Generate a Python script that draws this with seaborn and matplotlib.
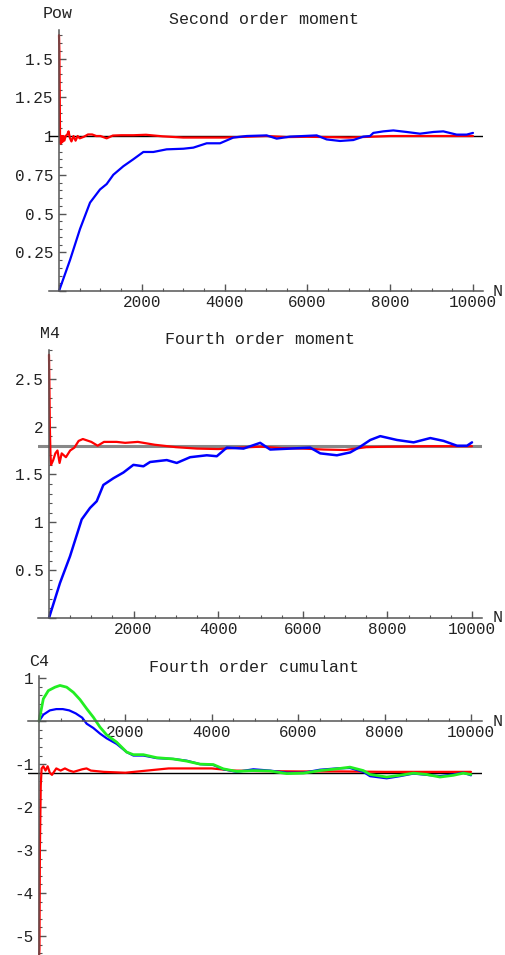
import numpy as np
import pandas as pd
import seaborn as sns
import matplotlib.pyplot as plt
from matplotlib.ticker import MultipleLocator, FuncFormatter

# ---- panel 1: second order moment ----
pow_red_n = [0, 8, 16, 24, 40, 60, 80, 100, 130, 160, 200, 230, 260, 300, 350, 400, 450, 500, 550,
             600, 700, 800, 900, 1000, 1150, 1300, 1500, 1800, 2100, 2500, 3000, 3500, 4000, 4500,
             5000, 5500, 6000, 6500, 7000, 7500, 8000, 9000, 10000]
pow_red = [1.65, 1.55, 1.3, 1.01, 0.95, 1.0, 0.96, 1.0, 0.97, 1.0, 1.01, 1.03, 0.99, 0.965, 1.0, 0.97,
           1.0, 0.985, 0.99, 0.995, 1.01, 1.01, 1.0, 1.0, 0.985, 1.003, 1.005, 1.005, 1.008, 0.998,
           0.99, 0.99, 0.99, 0.995, 1.0, 0.993, 0.995, 0.993, 0.99, 0.995, 1.0, 1.0, 1.0]
pow_blue_n = [0, 266, 507, 749, 990, 1151, 1312, 1554, 1795, 2037, 2279, 2600, 3003, 3245, 3567, 3889,
              4211, 4533, 5016, 5258, 5580, 6224, 6465, 6787, 7109, 7351, 7512, 7593, 7834, 8076,
              8398, 8720, 9042, 9283, 9605, 9847, 10000]
pow_blue = [0.0, 0.2, 0.4, 0.57, 0.655, 0.69, 0.75, 0.805, 0.85, 0.897, 0.897, 0.914, 0.918, 0.925,
            0.953, 0.953, 0.99, 1.0, 1.004, 0.983, 0.996, 1.004, 0.978, 0.968, 0.974, 0.996, 1.0,
            1.02, 1.03, 1.036, 1.026, 1.015, 1.026, 1.03, 1.009, 1.009, 1.02]
pow_ref = 1.0

# ---- panel 2: fourth order moment ----
m4_red_n = [0, 10, 20, 35, 50, 100, 150, 200, 250, 300, 400, 500, 600, 700, 800, 1000, 1150, 1300,
            1600, 1800, 2100, 2500, 3000, 3500, 4000, 4500, 5000, 5500, 6000, 6500, 7000, 7500,
            8000, 9000, 10000]
m4_red = [2.75, 2.4, 2.0, 1.7, 1.6, 1.65, 1.72, 1.75, 1.62, 1.72, 1.68, 1.75, 1.78, 1.85, 1.87, 1.84,
          1.8, 1.84, 1.84, 1.83, 1.84, 1.81, 1.785, 1.77, 1.765, 1.78, 1.79, 1.775, 1.77, 1.76,
          1.755, 1.785, 1.79, 1.795, 1.795]
m4_blue_n = [0, 260, 497, 773, 970, 1128, 1285, 1522, 1759, 1995, 2232, 2390, 2784, 3020, 3336, 3730,
             3967, 4203, 4598, 4992, 5229, 5702, 6175, 6412, 6806, 7121, 7358, 7595, 7831, 8225,
             8620, 9014, 9330, 9645, 9882, 10000]
m4_blue = [0.0, 0.366, 0.645, 1.03, 1.15, 1.22, 1.39, 1.46, 1.52, 1.6, 1.585, 1.63, 1.65, 1.62, 1.68,
           1.7, 1.69, 1.78, 1.77, 1.83, 1.76, 1.77, 1.78, 1.72, 1.7, 1.73, 1.79, 1.86, 1.9, 1.86,
           1.835, 1.88, 1.85, 1.8, 1.8, 1.835]
m4_ref = 1.8

# ---- panel 3: fourth order cumulant ----
c4_red_n = [0, 10, 20, 40, 60, 100, 150, 200, 250, 300, 400, 500, 600, 700, 800, 1000, 1100, 1200,
            1500, 2000, 2500, 3000, 3500, 4000, 4500, 5000, 6000, 7000, 8000, 9000, 10000]
c4_red = [-5.5, -5.3, -3.0, -1.5, -1.1, -1.05, -1.15, -1.05, -1.2, -1.25, -1.1, -1.15, -1.1, -1.15,
          -1.18, -1.12, -1.1, -1.15, -1.18, -1.2, -1.15, -1.1, -1.1, -1.1, -1.15, -1.16, -1.17,
          -1.17, -1.18, -1.18, -1.18]
c4_green_n = [0, 100, 216, 370, 486, 640, 795, 950, 1103, 1258, 1412, 1566, 1798, 2029, 2184, 2415,
              2724, 3110, 3418, 3727, 4035, 4267, 4576, 4961, 5347, 5733, 6119, 6505, 6890, 7199,
              7508, 7662, 8048, 8356, 8665, 8974, 9282, 9591, 9823, 10000]
c4_green = [0.0, 0.52, 0.71, 0.79, 0.83, 0.79, 0.67, 0.5, 0.29, 0.09, -0.14, -0.32, -0.49, -0.72,
            -0.78, -0.78, -0.85, -0.88, -0.93, -1.0, -1.01, -1.11, -1.17, -1.15, -1.16, -1.22,
            -1.21, -1.15, -1.11, -1.07, -1.15, -1.24, -1.3, -1.26, -1.21, -1.24, -1.3, -1.26,
            -1.21, -1.24]
c4_blue_n = [0, 100, 250, 400, 550, 700, 850, 1000, 1103, 1258, 1412, 1566, 1798, 2029, 2184, 2415,
             2724, 3110, 3418, 3727, 4035, 4267, 4576, 4961, 5347, 5733, 6119, 6505, 6890, 7199,
             7508, 7662, 8048, 8356, 8665, 8974, 9282, 9591, 9823, 10000]
c4_blue = [0.0, 0.15, 0.25, 0.28, 0.28, 0.25, 0.18, 0.08, -0.06, -0.16, -0.29, -0.4, -0.53, -0.72,
           -0.8, -0.8, -0.86, -0.88, -0.92, -1.0, -1.02, -1.12, -1.18, -1.12, -1.15, -1.2, -1.2,
           -1.13, -1.1, -1.09, -1.18, -1.28, -1.33, -1.28, -1.22, -1.25, -1.28, -1.24, -1.2, -1.26]
c4_ref = -1.2

sns.set_style("white")
plt.rcParams['font.family'] = ['Liberation Mono', 'DejaVu Sans Mono']
plt.rcParams['axes.unicode_minus'] = False

W, H = 505, 955
fig = plt.figure(figsize=(W / 100, H / 100), dpi=100)


def fmt(v, pos):
    if abs(v) < 1e-9:
        return ""
    return "%g" % round(v, 4)


def setup(ax, xlim, ylim, ymajor, yminor):
    ax.set_xlim(*xlim)
    ax.set_ylim(*ylim)
    for s in ["top", "right"]:
        ax.spines[s].set_visible(False)
    ax.spines["left"].set_position(("data", 0))
    ax.spines["bottom"].set_position(("data", 0))
    for s in ["left", "bottom"]:
        ax.spines[s].set_color("#555555")
        ax.spines[s].set_linewidth(1.1)
    ax.xaxis.set_major_locator(MultipleLocator(2000))
    ax.xaxis.set_minor_locator(MultipleLocator(500))
    ax.yaxis.set_major_locator(MultipleLocator(ymajor))
    ax.yaxis.set_minor_locator(MultipleLocator(yminor))
    ax.xaxis.set_major_formatter(FuncFormatter(fmt))
    ax.yaxis.set_major_formatter(FuncFormatter(fmt))
    ax.tick_params(which="both", direction="in", colors="#555555", labelcolor="#222222",
                   labelsize=11.5, left=True, bottom=True)
    ax.tick_params(which="major", length=5, width=1)
    ax.tick_params(which="minor", length=2.5, width=0.8)
    ax.tick_params(axis="y", pad=4)
    ax.tick_params(axis="x", pad=3)
    ax.set_xlabel("")
    ax.set_ylabel("")
    ax.patch.set_alpha(0)


def px(x, y):
    return x / W, 1 - y / H


def draw(ax, n, v, color, lw):
    sns.lineplot(x=n, y=v, ax=ax, color=color, lw=lw, sort=False, estimator=None)


# panel 1
ax1 = fig.add_axes([49 / W, 1 - 291 / H, 434 / W, 261 / H])
ax1.axhline(pow_ref, color="black", lw=1)
draw(ax1, pow_red_n, pow_red, "#ff0000", 1.6)
draw(ax1, pow_blue_n, pow_blue, "#0000ff", 1.6)
setup(ax1, (-242, 10242), (0, 1.684), 0.25, 0.05)

# panel 2
ax2 = fig.add_axes([38 / W, 1 - 618 / H, 444 / W, 268 / H])
ax2.axhline(m4_ref, color="#888888", lw=2.2)
draw(ax2, m4_red_n, m4_red, "#ff0000", 1.6)
draw(ax2, m4_blue_n, m4_blue, "#0000ff", 1.8)
setup(ax2, (-260, 10236), (0, 2.8), 0.5, 0.1)

# panel 3
ax3 = fig.add_axes([28 / W, 0, 454 / W, 279 / H])
ax3.axhline(c4_ref, color="black", lw=1)
draw(ax3, c4_red_n, c4_red, "#ff0000", 1.6)
draw(ax3, c4_blue_n, c4_blue, "#0000ff", 1.6)
draw(ax3, c4_green_n, c4_green, "#22ee22", 2.0)
setup(ax3, (-255, 10255), (-5.44, 1.05), 1, 0.2)

# titles and axis labels (Mathematica style)
txt = dict(ha="center", va="center", fontsize=12, color="#222222")
fig.text(*px(264, 19), "Second order moment", **txt)
fig.text(*px(260, 340), "Fourth order moment", **txt)
fig.text(*px(254, 667), "Fourth order cumulant", **txt)
fig.text(*px(58, 14), "Pow", **txt)
fig.text(*px(50, 334), "M4", **txt)
fig.text(*px(39, 662), "C4", **txt)
fig.text(*px(498, 291), "N", **txt)
fig.text(*px(498, 618), "N", **txt)
fig.text(*px(498, 721), "N", **txt)

fig.savefig("out.png", dpi=100)
